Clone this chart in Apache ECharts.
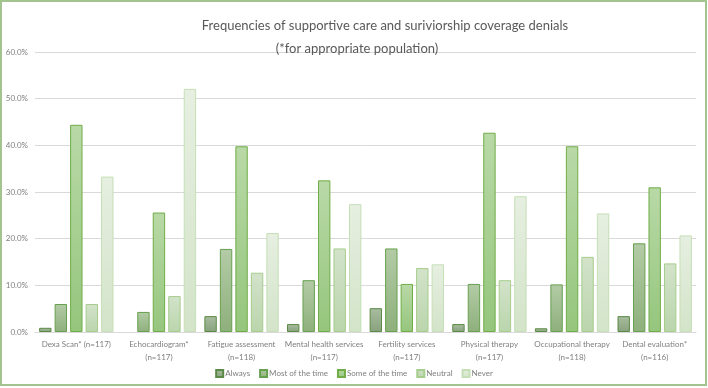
<!DOCTYPE html>
<html>
<head>
<meta charset="utf-8">
<script src="https://cdn.jsdelivr.net/npm/echarts@6/dist/echarts.min.js"></script>
<style>
  html, body { margin: 0; padding: 0; background: #fff; }
  #chart { width: 708px; height: 388px; }
</style>
</head>
<body>
<div id="chart"></div>
<script>
// categories (x axis)
const categories = [
  'Dexa Scan* (n=117)',
  'Echocardiogram*\n(n=117)',
  'Fatigue assessment\n(n=118)',
  'Mental health services\n(n=117)',
  'Fertility services\n(n=117)',
  'Physical therapy\n(n=117)',
  'Occupational therapy\n(n=118)',
  'Dental evaluation*\n(n=116)'
];

// percent of respondents, per answer
const always      = [0.9, 0.0, 3.4, 1.7, 5.1, 1.7, 0.8, 3.4];
const mostOfTime  = [6.0, 4.3, 17.8, 11.1, 17.9, 10.3, 10.2, 19.0];
const someOfTime  = [44.4, 25.6, 39.8, 32.5, 10.3, 42.7, 39.8, 31.0];
const neutral     = [6.0, 7.7, 12.7, 17.9, 13.7, 11.1, 16.1, 14.7];
const never       = [33.3, 52.1, 21.2, 27.4, 14.5, 29.1, 25.4, 20.7];

const seriesNames = ['Always', 'Most of the time', 'Some of the time', 'Neutral', 'Never'];
const seriesData = [always, mostOfTime, someOfTime, neutral, never];

// [top colour, bottom colour, border]
const palette = [
  ['#a9bca0', '#88a27c', '#5b8a46'],
  ['#b3cba6', '#8eb07c', '#67a04e'],
  ['#b9d9a7', '#95c67d', '#70ad47'],
  ['#d3e3ca', '#bad5ac', '#a6cd8c'],
  ['#e6efe1', '#d3e4c9', '#c6dfb6']
];

const grad = (top, bottom) => ({
  type: 'linear', x: 0, y: 0, x2: 0, y2: 1,
  colorStops: [{ offset: 0, color: top }, { offset: 1, color: bottom }]
});

const font = 'Lato, "Open Sans", sans-serif';
const chart = echarts.init(document.getElementById('chart'));

const titleStyle = { fontSize: 13, fontWeight: 'normal', color: '#595959', fontFamily: font };

const option = {
  animation: false,
  textStyle: { fontFamily: font },
  title: [
    {
      text: 'Frequencies of supportive care and suriviorship coverage denials',
      left: 380, top: 14, textAlign: 'center', textStyle: titleStyle
    },
    {
      text: '(*for appropriate population)',
      left: 352, top: 37, textAlign: 'center', textStyle: titleStyle
    }
  ],
  graphic: [{
    type: 'rect', silent: true,
    shape: { x: 1, y: 1, width: 705, height: 384 },
    style: { fill: null, stroke: '#a3c48f', lineWidth: 2 }
  }],
  legend: {
    bottom: 5, left: 'center',
    icon: 'rect', itemWidth: 7, itemHeight: 7, itemGap: 9,
    textStyle: { fontSize: 8, color: '#7f7f7f', fontFamily: font, padding: [0, 0, 0, -3] },
    data: seriesNames
  },
  grid: { left: 35, right: 12, top: 52, bottom: 56 },
  xAxis: {
    type: 'category',
    data: categories,
    axisLine: { lineStyle: { color: '#d9d9d9' } },
    axisTick: { show: false },
    axisLabel: { interval: 0, fontSize: 8, color: '#7f7f7f', lineHeight: 13, margin: 6, fontFamily: font }
  },
  yAxis: {
    type: 'value', min: 0, max: 60, interval: 10,
    axisLine: { show: false },
    axisTick: { show: false },
    splitLine: { lineStyle: { color: '#d9d9d9' } },
    axisLabel: { fontSize: 8, color: '#7f7f7f', margin: 7, fontFamily: font,
      formatter: v => v.toFixed(1) + '%' }
  },
  series: seriesData.map((d, i) => ({
    name: seriesNames[i],
    type: 'bar',
    // zero-height bars are not drawn in the original
    data: d.map(v => (v === 0 ? null : v)),
    barGap: '25%',
    barCategoryGap: '10%',
    itemStyle: {
      color: grad(palette[i][0], palette[i][1]),
      borderColor: palette[i][2],
      borderWidth: 1
    }
  }))
};

chart.setOption(option);
</script>
</body>
</html>
